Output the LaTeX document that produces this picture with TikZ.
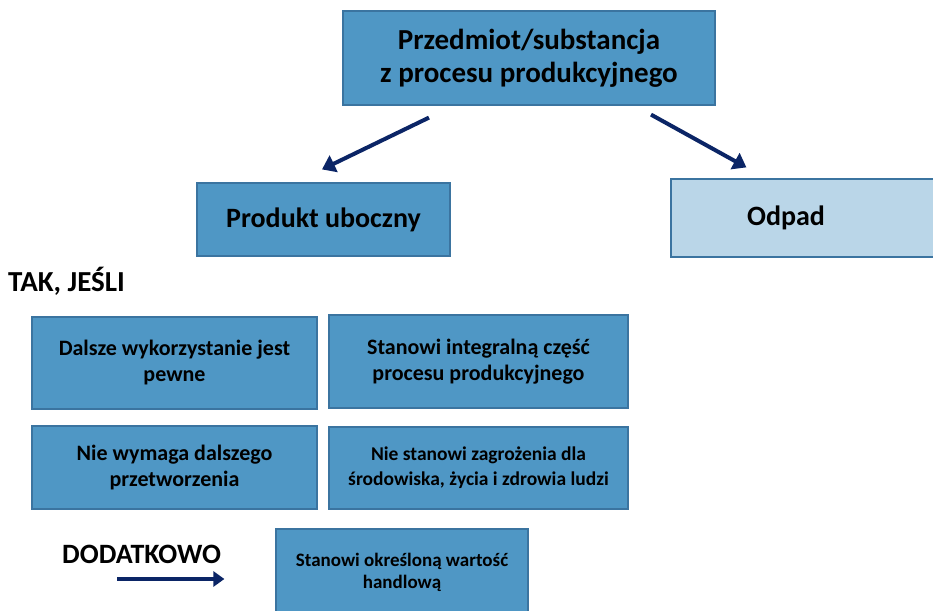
\documentclass[tikz,border=0pt]{standalone}
\usepackage{fontspec}
\setmainfont{Carlito}
\usetikzlibrary{arrows.meta}

\definecolor{boxblue}{HTML}{4F97C5}
\definecolor{boxedge}{HTML}{3B74A0}
\definecolor{paleblue}{HTML}{BAD6E8}
\definecolor{navy}{HTML}{0B2566}

\tikzset{
  box/.style={draw=boxedge, line width=1.2pt, fill=boxblue, align=center, inner sep=0pt},
  flow/.style={draw=navy, line width=4pt, -{Triangle[length=13pt,width=18pt]}},
  bigtext/.style={font=\fontsize{29}{33}\selectfont\bfseries},
  midtext/.style={font=\fontsize{28}{30}\selectfont\bfseries},
  smalltext/.style={font=\fontsize{22}{26}\selectfont\bfseries},
  tinytext/.style={font=\fontsize{19.5}{25}\selectfont\bfseries},
}

\begin{document}
\begin{tikzpicture}[x=1pt, y=-1pt]
  \useasboundingbox (0,0) rectangle (933,610);

  % top and the two outcomes
  \node[box, bigtext, minimum width=372pt, minimum height=94pt] (top) at (529,58)
    {Przedmiot/substancja\\z procesu produkcyjnego};
  \node[box, midtext, minimum width=253pt, minimum height=73pt] (uboczny) at (323.5,219.5)
    {Produkt uboczny};
  \node[box, midtext, fill=paleblue, minimum width=279pt, minimum height=78pt] (odpad) at (810.5,218)
    {\hspace*{-49pt}Odpad};

  \draw[flow] ([xshift=-100pt,yshift=-12pt]top.south) -- ([xshift=-1.5pt,yshift=13pt]uboczny.north);
  \draw[flow] ([xshift=122pt,yshift=-9pt]top.south) -- ([xshift=76pt,yshift=11pt]odpad.north west);

  % conditions
  \node[midtext, font=\fontsize{29}{30}\selectfont\bfseries, anchor=west, inner sep=0pt] (tak) at (8,281) {TAK, JEŚLI};

  \node[box, smalltext, minimum width=285pt, minimum height=92pt] (dalsze) at (174.5,363)
    {Dalsze wykorzystanie jest\\pewne};
  \node[box, smalltext, minimum width=299pt, minimum height=93pt] (integral) at (478.5,361.5)
    {Stanowi integralną część\\procesu produkcyjnego};
  \node[box, smalltext, minimum width=285pt, minimum height=83pt] (wymaga) at (174.5,467.5)
    {Nie wymaga dalszego\\przetworzenia};
  \node[box, tinytext, minimum width=299pt, minimum height=82pt] (zagrozenie) at (478.5,468)
    {Nie stanowi zagrożenia dla\\środowiska, życia i zdrowia ludzi};

  % additionally
  \node[midtext, anchor=west, inner sep=0pt] (dod) at (62,554) {DODATKOWO};
  \node[box, tinytext, font=\fontsize{19}{22}\selectfont\bfseries, minimum width=252pt, minimum height=86pt] (handel) at (402,572)
    {Stanowi określoną wartość\\handlową};

  \coordinate (dodstart) at (117,579);
  \draw[flow, line width=3.5pt, -{Triangle[length=11pt,width=15pt]}, shorten >=51pt] (dodstart) -- (dodstart -| handel.west);
\end{tikzpicture}
\end{document}
